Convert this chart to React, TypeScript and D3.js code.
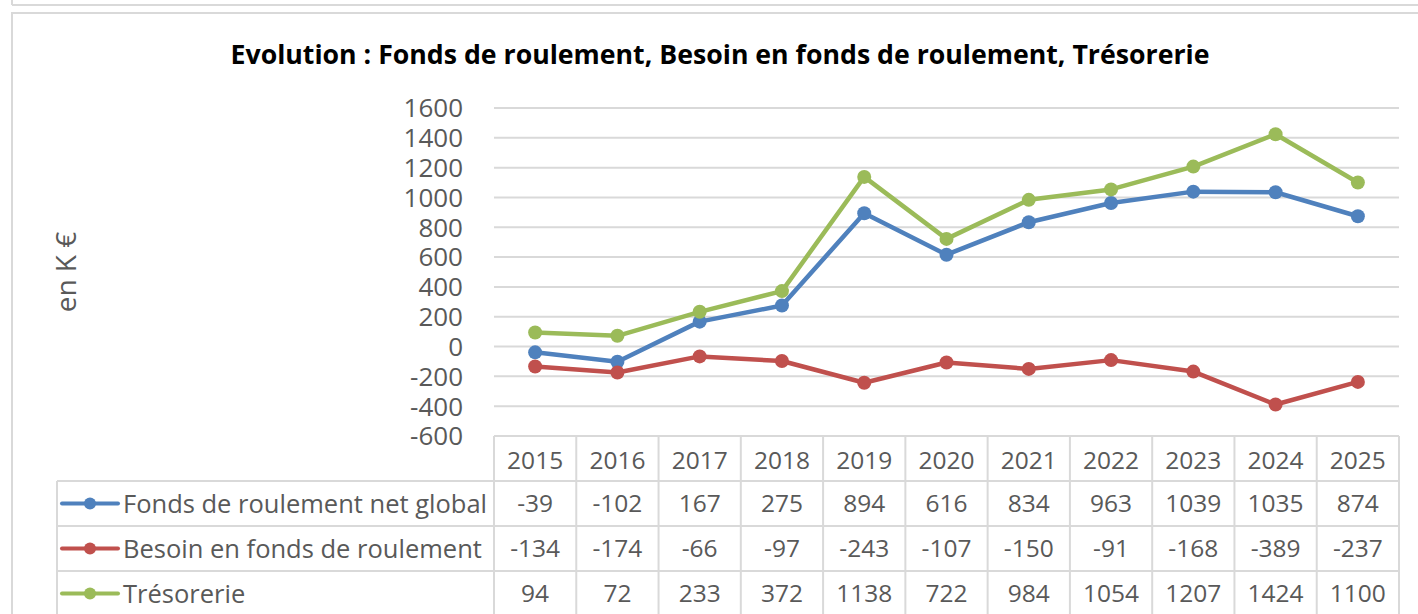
import React, { useEffect } from 'react';
import * as d3 from 'd3';

const years = ['2015', '2016', '2017', '2018', '2019', '2020', '2021', '2022', '2023', '2024', '2025'];
const fondsRoulement = [-39, -102, 167, 275, 894, 616, 834, 963, 1039, 1035, 874];
const besoinFonds = [-134, -174, -66, -97, -243, -107, -150, -91, -168, -389, -237];
const tresorerie = [94, 72, 233, 372, 1138, 722, 984, 1054, 1207, 1424, 1100];
const seriesNames = ['Fonds de roulement net global', 'Besoin en fonds de roulement', 'Trésorerie'];
const yTicks = [-600, -400, -200, 0, 200, 400, 600, 800, 1000, 1200, 1400, 1600];

const title = 'Evolution : Fonds de roulement, Besoin en fonds de roulement, Trésorerie';
const colors = ['#4F81BD', '#C0504D', '#9BBB59'];
const font = '"Open Sans", sans-serif';
const textColor = '#595959';
const gridColor = '#d9d9d9';

const W = 1418;
const H = 614;

const App = () => {
    useEffect(() => {
        document.body.style.margin = '0';
    }, []);

    const series = [fondsRoulement, besoinFonds, tresorerie];

    const x = d3.scaleBand<string>()
        .domain(years)
        .range([494, 1399])
        .padding(0);
    const cx = (i: number) => (x(years[i]) as number) + x.bandwidth() / 2;

    const y = d3.scaleLinear()
        .domain([-600, 1600])
        .range([436, 108]);

    const line = d3.line<number>()
        .x((d, i) => cx(i))
        .y(d => y(d));

    const tableLeft = 57;
    const tableTop = y(-600);
    const rowH = 45;
    const rowTop = (r: number) => tableTop + rowH * (r + 1);

    return (
        <svg width={W} height={H} style={{ display: 'block', background: '#fff' }} fontFamily={font}>
            {/* outer chart frames */}
            <line x1={12} x2={W} y1={5} y2={5} stroke={gridColor} strokeWidth={2} />
            <line x1={12} x2={12} y1={0} y2={5} stroke={gridColor} strokeWidth={2} />
            <rect x={12} y={13} width={W} height={H} fill="none" stroke={gridColor} strokeWidth={2} />

            <text x={720} y={64} textAnchor="middle" fontSize={26.7} fontWeight="bold" fill="#000">{title}</text>

            <text transform={`translate(66,272) rotate(-90)`} dy="0.35em" textAnchor="middle" fontSize={28} fill={textColor}>en K €</text>

            {/* horizontal gridlines + y labels */}
            {yTicks.map(t => (
                <g key={t}>
                    <line x1={494} x2={1399} y1={y(t)} y2={y(t)} stroke={gridColor} strokeWidth={2} />
                    <text x={463} y={y(t)} dy="0.36em" textAnchor="end" fontSize={26} fill={textColor}>{t}</text>
                </g>
            ))}

            {/* data table */}
            <g stroke={gridColor} strokeWidth={2} fill="none">
                {[0, 1, 2, 3].map(r => (
                    <line key={'h' + r} x1={r === 0 ? 494 : tableLeft} x2={1399} y1={rowTop(r - 1)} y2={rowTop(r - 1)} />
                ))}
                <line x1={tableLeft} x2={tableLeft} y1={rowTop(0)} y2={H} />
                {years.map(yr => (
                    <line key={'v' + yr} x1={x(yr)} x2={x(yr)} y1={tableTop} y2={H} />
                ))}
                <line x1={1399} x2={1399} y1={tableTop} y2={H} />
            </g>
            {years.map((yr, i) => (
                <text key={'y' + yr} x={cx(i)} y={tableTop + rowH / 2 + 2} dy="0.36em"
                    textAnchor="middle" fontSize={24.5} fill={textColor}>{yr}</text>
            ))}
            {series.map((s, si) => (
                <g key={'row' + si}>
                    <line x1={62} x2={118} y1={rowTop(si) + rowH / 2} y2={rowTop(si) + rowH / 2} stroke={colors[si]} strokeWidth={4} strokeLinecap="round" />
                    <circle cx={90} cy={rowTop(si) + rowH / 2} r={6} fill={colors[si]} />
                    <text x={123} y={rowTop(si) + rowH / 2} dy="0.36em" fontSize={25.5} fill={textColor}>{seriesNames[si]}</text>
                    {s.map((v, i) => (
                        <text key={i} x={cx(i)} y={rowTop(si) + rowH / 2} dy="0.36em"
                            textAnchor="middle" fontSize={24.5} fill={textColor}>{v}</text>
                    ))}
                </g>
            ))}

            {/* lines */}
            {series.map((s, si) => (
                <g key={'s' + si}>
                    <path d={line(s) as string} fill="none" stroke={colors[si]} strokeWidth={4.5} strokeLinejoin="round" />
                    {s.map((v, i) => (
                        <circle key={i} cx={cx(i)} cy={y(v)} r={7} fill={colors[si]} />
                    ))}
                </g>
            ))}
        </svg>
    );
};

export default App;
